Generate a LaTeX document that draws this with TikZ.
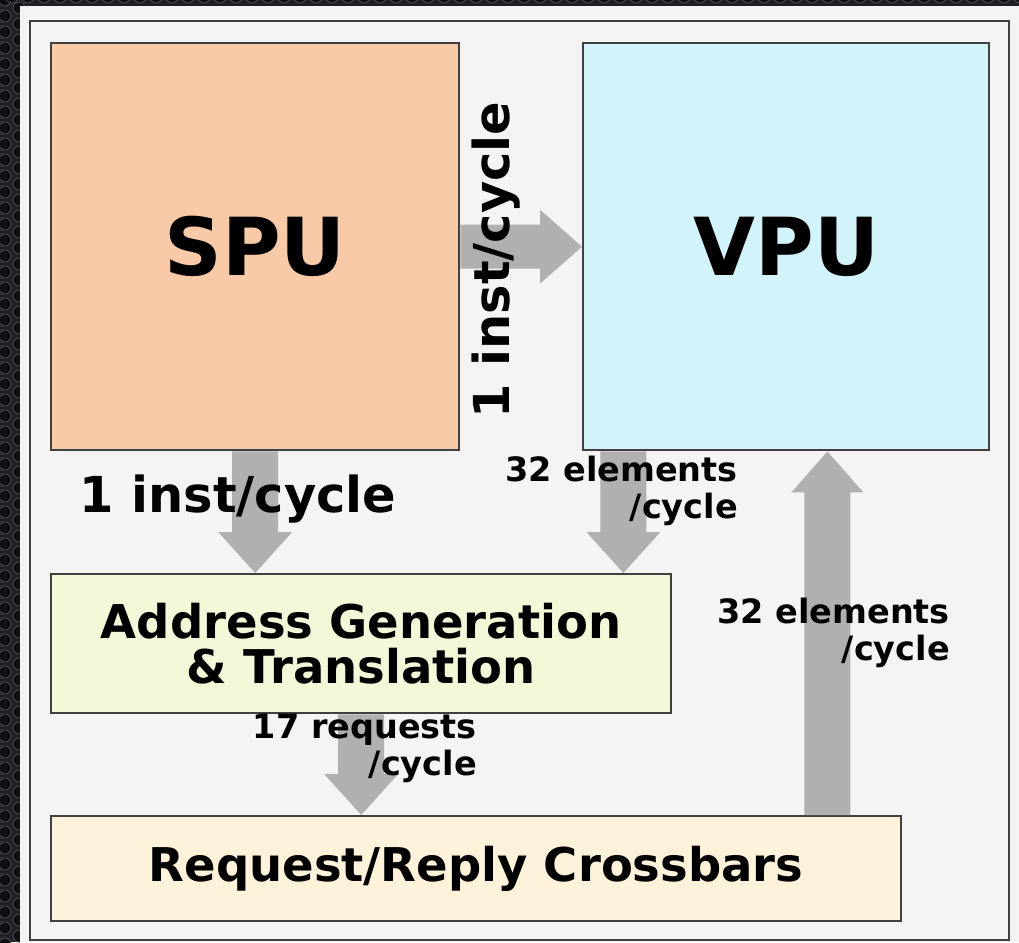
\documentclass[tikz,border=0pt]{standalone}
\usepackage{fontspec}
\setmainfont{DejaVu Sans}
\usetikzlibrary{calc}
\definecolor{spufill}{HTML}{F9CAA7}
\definecolor{vpufill}{HTML}{D3F3FA}
\definecolor{agtfill}{HTML}{F3F8D8}
\definecolor{xbarfill}{HTML}{FEF3DA}
\definecolor{panel}{HTML}{F4F4F4}
\definecolor{flow}{HTML}{B0B0B0}
\definecolor{edge}{HTML}{404040}
\definecolor{metal}{HTML}{202226}
\definecolor{hole}{HTML}{0E0E10}
\definecolor{rim}{HTML}{41454C}

\begin{document}
\begin{tikzpicture}[x=1pt,y=-1pt,
  unit/.style={draw=edge, line width=2.4pt, inner sep=0pt, anchor=north west,
    font=\bfseries, text=black},
  flowarrow/.style={fill=flow},
  rate/.style={font=\bfseries\fontsize{33.5}{37}\selectfont, align=right,
    inner sep=0pt, text=black},
  bigrate/.style={font=\bfseries\fontsize{49.5}{49.5}\selectfont,
    inner sep=0pt, text=black}]

\useasboundingbox (0,0) rectangle (1019,942);

% perforated metal backdrop
\fill[metal] (0,0) rectangle (1019,942);
\foreach \j in {0,...,60} {
  \draw[rim, fill=hole, line width=1pt] (5,\j*16) circle (6);
  \draw[rim, fill=hole, line width=1pt] (19,\j*16+8) circle (6);
}
\foreach \i in {0,...,64} {
  \draw[rim, fill=hole, line width=1pt] (\i*16+12,-3) circle (6);
}

% light panel and its frame
\fill[panel] (20,6) rectangle (1019,942);
\draw[edge, line width=2.4pt] (30,21) rectangle (1009,940);

% processing units and memory path
\node[unit, fill=spufill, minimum width=408pt, minimum height=407pt,
  font=\bfseries\fontsize{80}{80}\selectfont] (spu) at (50,42) {SPU};
\node[unit, fill=vpufill, minimum width=406pt, minimum height=407pt,
  font=\bfseries\fontsize{80}{80}\selectfont] (vpu) at (582,42) {VPU};
\node[unit, fill=agtfill, minimum width=620pt, minimum height=139pt,
  align=center, font=\bfseries\fontsize{46.5}{45}\selectfont]
  (agt) at (50,573) {Address Generation\\\& Translation};
\node[unit, fill=xbarfill, minimum width=850pt, minimum height=105pt,
  font=\bfseries\fontsize{46.5}{46}\selectfont]
  (xbar) at (50,815) {Request/Reply Crossbars};

% SPU -> VPU
\fill[flowarrow] ($(spu.east)+(0,-22)$) -- ($(vpu.west)+(-42,-22)$)
  -- ($(vpu.west)+(-42,-37)$) -- (vpu.west) -- ($(vpu.west)+(-42,37)$)
  -- ($(vpu.west)+(-42,22)$) -- ($(spu.east)+(0,22)$) -- cycle;

% SPU -> address generation
\coordinate (t1) at (spu.south |- agt.north);
\fill[flowarrow] ($(spu.south)+(-23,0)$) -- ($(t1)+(-23,-41)$)
  -- ($(t1)+(-37,-41)$) -- (t1) -- ($(t1)+(37,-41)$)
  -- ($(t1)+(23,-41)$) -- ($(spu.south)+(23,0)$) -- cycle;

% VPU -> address generation
\coordinate (t2) at ($(agt.north east)+(-49,0)$);
\coordinate (s2) at (t2 |- vpu.south);
\fill[flowarrow] ($(s2)+(-23,0)$) -- ($(t2)+(-23,-41)$)
  -- ($(t2)+(-37,-41)$) -- (t2) -- ($(t2)+(37,-41)$)
  -- ($(t2)+(23,-41)$) -- ($(s2)+(23,0)$) -- cycle;

% address generation -> crossbars
\coordinate (t3) at (agt.south |- xbar.north);
\fill[flowarrow] ($(agt.south)+(-23,0)$) -- ($(t3)+(-23,-41)$)
  -- ($(t3)+(-37,-41)$) -- (t3) -- ($(t3)+(37,-41)$)
  -- ($(t3)+(23,-41)$) -- ($(agt.south)+(23,0)$) -- cycle;

% crossbars -> VPU
\coordinate (s4) at ($(xbar.north east)+(-75,0)$);
\coordinate (t4) at (s4 |- vpu.south);
\fill[flowarrow] ($(s4)+(-23,0)$) -- ($(t4)+(-23,41)$)
  -- ($(t4)+(-36,41)$) -- (t4) -- ($(t4)+(36,41)$)
  -- ($(t4)+(23,41)$) -- ($(s4)+(23,0)$) -- cycle;

% throughput labels
\node[bigrate, rotate=90] (lab1) at (496,260) {1 inst/cycle};
\node[bigrate] (lab2) at (238,499) {1 inst/cycle};
\node[rate, anchor=east] (lab3) at (738,491) {32 elements\\/cycle};
\node[rate, anchor=east] (lab4) at (950,633) {32 elements\\/cycle};
\node[rate, anchor=east] (lab5) at (477,748) {17 requests\\/cycle};
\end{tikzpicture}
\end{document}
